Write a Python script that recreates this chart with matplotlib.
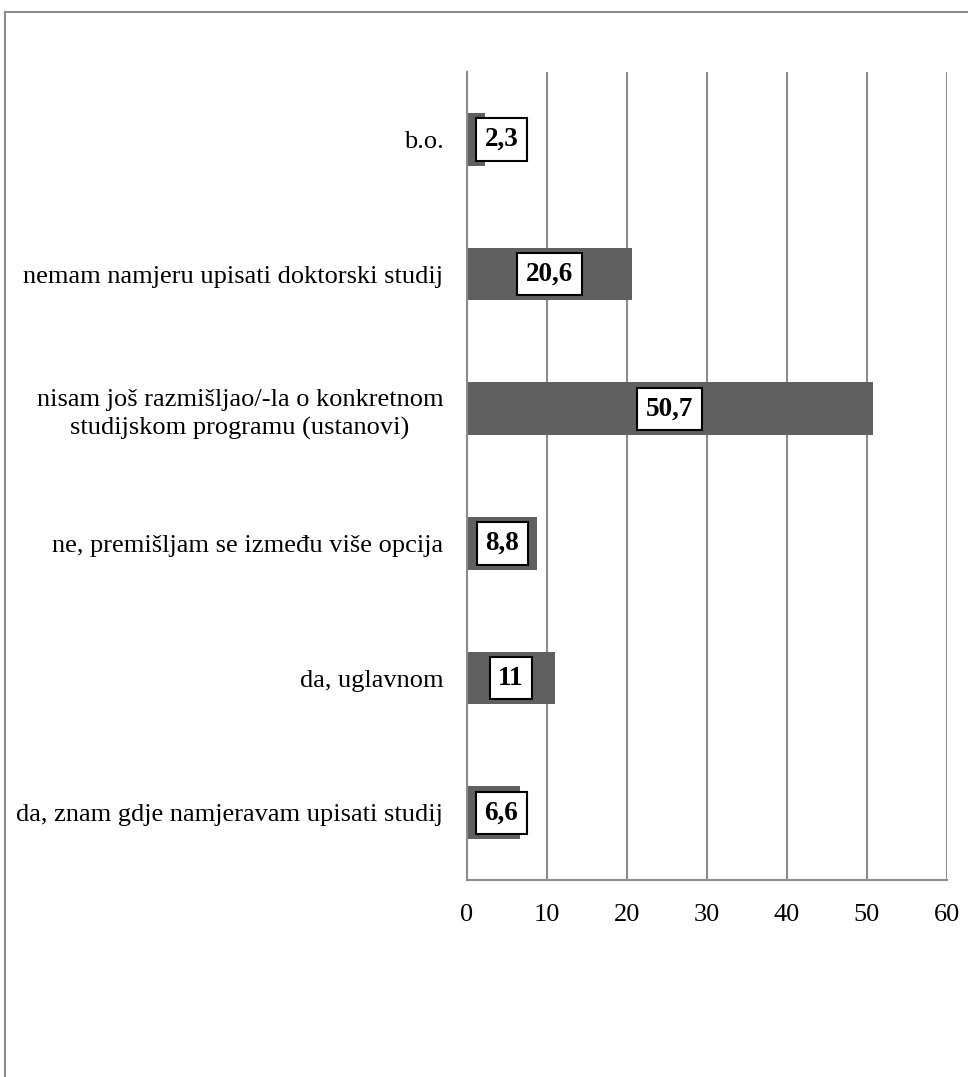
import matplotlib
matplotlib.use("Agg")
from matplotlib import pyplot as plt
from matplotlib.lines import Line2D

categories = [
    "da, znam gdje namjeravam upisati studij",
    "da, uglavnom",
    "ne, premišljam se između više opcija",
    "nisam još razmišljao/-la o konkretnom\nstudijskom programu (ustanovi)",
    "nemam namjeru upisati doktorski studij",
    "b.o.",
]
values = [6.6, 11, 8.8, 50.7, 20.6, 2.3]
value_labels = ["6,6", "11", "8,8", "50,7", "20,6", "2,3"]
ticks = [0, 10, 20, 30, 40, 50, 60]

plt.rcParams["font.family"] = ["Liberation Serif", "DejaVu Serif"]

fig = plt.figure(figsize=(9.68, 10.77), dpi=100)
ax = fig.add_axes([0.4824, 0.1829, 0.4959, 0.7502])

grey = "#8c8c8c"
ypos = list(range(len(categories)))
ax.barh(ypos, values, height=0.39, color="#606060", zorder=2)

for y, v, lab in zip(ypos, values, value_labels):
    ax.text(max(v / 2, 4.3), y, lab, ha="center", va="center", fontsize=19.5,
            fontweight="bold", zorder=3,
            bbox=dict(boxstyle="square,pad=0.32", fc="white", ec="black", lw=1.5))

ax.set_xlim(0, 60)
ax.set_ylim(-0.5, len(categories) - 0.5)
ax.set_xticks(ticks)
ax.set_xticklabels([str(t) for t in ticks], fontsize=19)
ax.set_yticks(ypos)
ax.set_yticklabels(categories, fontsize=19, linespacing=1.35)
for t in ax.get_yticklabels():
    t.set_multialignment("center")
ax.tick_params(axis="both", length=0)
ax.tick_params(axis="x", pad=17)
ax.tick_params(axis="y", pad=17)
ax.xaxis.grid(True, color=grey, lw=1.5, zorder=1)
ax.set_axisbelow(True)
for s in ["top", "right"]:
    ax.spines[s].set_visible(False)
for s in ["left", "bottom"]:
    ax.spines[s].set_color(grey)
    ax.spines[s].set_linewidth(1.5)

# outer chart frame (left and top edges visible)
fig.add_artist(Line2D([5 / 968, 5 / 968], [0, 1 - 12 / 1077], transform=fig.transFigure, color=grey, lw=1.5))
fig.add_artist(Line2D([5 / 968, 1], [1 - 12 / 1077, 1 - 12 / 1077], transform=fig.transFigure, color=grey, lw=1.5))

fig.savefig("out.png", dpi=100)
